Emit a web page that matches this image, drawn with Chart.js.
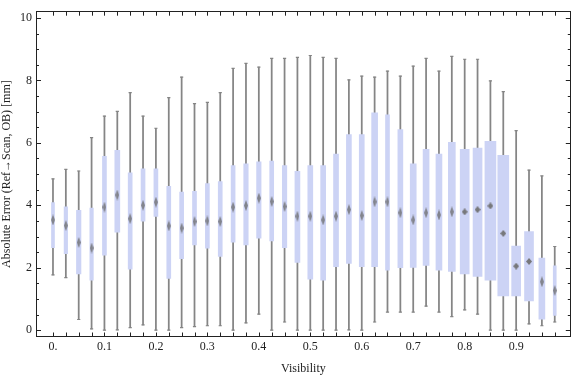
<!DOCTYPE html>
<html>
<head>
<meta charset="utf-8">
<script src="https://cdn.jsdelivr.net/npm/chart.js@4"></script>
<style>
  html, body { margin: 0; padding: 0; background: #fff; }
  #wrap { width: 576px; height: 377px; }
</style>
</head>
<body>
<div id="wrap"><canvas id="chartBox"></canvas></div>
<script>
// visibility bins
const visibility = [0, 0.025, 0.05, 0.075, 0.1, 0.125, 0.15, 0.175, 0.2, 0.225,
  0.25, 0.275, 0.3, 0.325, 0.35, 0.375, 0.4, 0.425, 0.45, 0.475,
  0.5, 0.525, 0.55, 0.575, 0.6, 0.625, 0.65, 0.675, 0.7, 0.725,
  0.75, 0.775, 0.8, 0.825, 0.85, 0.875, 0.9, 0.925, 0.95, 0.975];

// box-whisker stats (mm)
const whiskerMax = [4.85, 5.15, 5.10, 6.17, 6.86, 7.01, 7.61, 6.86, 6.47, 7.45,
  8.11, 7.26, 7.30, 7.61, 8.39, 8.55, 8.43, 8.71, 8.71, 8.74,
  8.80, 8.74, 8.71, 8.02, 8.14, 8.11, 8.30, 8.14, 8.46, 8.71,
  8.30, 8.77, 8.68, 8.68, 7.99, 7.64, 6.39, 5.13, 4.94, 2.68];
const boxUpper = [4.09, 3.95, 3.84, 3.91, 5.57, 5.76, 5.04, 5.17, 5.17, 4.61,
  4.42, 4.45, 4.70, 4.76, 5.27, 5.33, 5.39, 5.42, 5.27, 5.09,
  5.27, 5.27, 5.64, 6.27, 6.27, 6.96, 6.90, 6.43, 5.33, 5.79,
  5.64, 6.02, 5.79, 5.83, 6.05, 5.60, 2.69, 3.16, 2.31, 2.06];
const medians = [3.53, 3.35, 2.81, 2.63, 3.94, 4.33, 3.57, 4.00, 4.10, 3.34,
  3.27, 3.48, 3.50, 3.48, 3.94, 3.99, 4.23, 4.12, 3.96, 3.65,
  3.65, 3.53, 3.65, 3.86, 3.67, 4.11, 4.11, 3.76, 3.53, 3.76,
  3.69, 3.79, 3.79, 3.86, 3.98, 3.10, 2.05, 2.20, 1.55, 1.27];
const boxLower = [2.64, 2.45, 1.80, 1.60, 2.40, 3.14, 1.95, 3.49, 3.64, 1.66,
  2.29, 2.73, 2.63, 2.36, 2.82, 2.73, 2.95, 2.86, 2.64, 2.17,
  1.63, 1.60, 2.03, 2.14, 2.03, 2.03, 1.92, 2.00, 2.01, 2.07,
  1.92, 1.88, 1.80, 1.72, 1.60, 1.10, 1.10, 0.94, 0.35, 0.47];
const whiskerMin = [1.77, 1.68, 0.34, 0.04, 0, 0.01, 0.08, 0.17, 0, 0,
  0.08, 0.11, 0.14, 0.14, 0, 0.23, 0.51, 0, 0.26, 0,
  0, 0, 0, 0.01, 0, 0.26, 0.58, 0.58, 0.58, 0.77,
  0.58, 0.43, 0.65, 0.51, 0, 0, 0, 0.20, 0.14, 0.26];

// axis ticks
const xTicks = [0, 0.025, 0.05, 0.075, 0.1, 0.125, 0.15, 0.175, 0.2, 0.225,
  0.25, 0.275, 0.3, 0.325, 0.35, 0.375, 0.4, 0.425, 0.45, 0.475,
  0.5, 0.525, 0.55, 0.575, 0.6, 0.625, 0.65, 0.675, 0.7, 0.725,
  0.75, 0.775, 0.8, 0.825, 0.85, 0.875, 0.9, 0.925, 0.95, 0.975];
const xLabels = { 0: '0.', 0.1: '0.1', 0.2: '0.2', 0.3: '0.3', 0.4: '0.4', 0.5: '0.5', 0.6: '0.6', 0.7: '0.7', 0.8: '0.8', 0.9: '0.9' };
const yTicks = [0, 0.5, 1, 1.5, 2, 2.5, 3, 3.5, 4, 4.5, 5, 5.5, 6, 6.5, 7, 7.5, 8, 8.5, 9, 9.5, 10];
const yLabels = { 0: '0', 2: '2', 4: '4', 6: '6', 8: '8', 10: '10' };

// box widths in px (style only)
const boxWidths = [3, 3.5, 4.5, 3.5, 4, 5, 4, 4, 4, 4, 4, 4, 4, 4, 4, 4.5, 4.5, 4, 4.5, 5,
  5, 5, 5, 5, 5, 6, 4, 5, 6, 6, 6, 7, 9, 9, 11, 11, 9, 9, 6, 3];

const BOX = '#ccd3f5';
const WHISK = '#858585';

function diamond(w, h, color) {
  const c = document.createElement('canvas');
  c.width = w; c.height = h;
  const g = c.getContext('2d');
  g.fillStyle = color;
  g.beginPath();
  g.moveTo(w / 2, 0); g.lineTo(w, h / 2); g.lineTo(w / 2, h); g.lineTo(0, h / 2);
  g.closePath(); g.fill();
  return c;
}
const tallMark = diamond(4, 11, 'rgba(105,105,105,0.75)');
const flatMark = diamond(6, 7, 'rgba(110,110,110,0.9)');

// one box dataset per width (bar thickness is per dataset)
const boxSets = [...new Set(boxWidths)].map(w => ({
  type: 'bar',
  order: 1,
  grouped: false,
  barThickness: w,
  backgroundColor: BOX,
  borderWidth: 0,
  data: visibility.map((x, i) => boxWidths[i] === w ? { x, y: [boxLower[i], boxUpper[i]] } : null).filter(Boolean)
}));

const framePlugin = {
  id: 'frame',
  afterDraw(chart) {
    const { ctx, chartArea: a, scales: { x, y } } = chart;
    ctx.save();
    ctx.strokeStyle = '#222';
    ctx.lineWidth = 1;
    ctx.strokeRect(Math.round(a.left) + 0.5, Math.round(a.top) + 0.5,
      Math.round(a.right - a.left) - 1, Math.round(a.bottom - a.top) - 1);
    ctx.beginPath();
    xTicks.forEach(v => {
      const px = Math.round(x.getPixelForValue(v)) + 0.5;
      ctx.moveTo(px, a.bottom); ctx.lineTo(px, a.bottom - 4.5);
      ctx.moveTo(px, a.top); ctx.lineTo(px, a.top + 4.5);
    });
    yTicks.forEach(v => {
      const py = Math.round(y.getPixelForValue(v)) + 0.5;
      const len = (v % 2 === 0) ? 5 : 3;
      ctx.moveTo(a.left, py); ctx.lineTo(a.left + len, py);
      ctx.moveTo(a.right, py); ctx.lineTo(a.right - len, py);
    });
    ctx.stroke();
    ctx.restore();
  }
};

const font = { family: "'Liberation Serif', 'DejaVu Serif', serif", size: 12 };

new Chart(document.getElementById('chartBox'), {
  data: {
    datasets: [
      {
        type: 'scatter',
        order: 0,
        data: visibility.map((x, i) => ({ x, y: medians[i] })),
        pointStyle: ctx => boxWidths[ctx.dataIndex] >= 9 ? flatMark : tallMark,
        pointRadius: 4,
        showLine: false
      },
      ...boxSets,
      {
        type: 'bar',
        order: 2,
        grouped: false,
        barThickness: 1.1,
        backgroundColor: WHISK,
        borderWidth: 0,
        data: visibility.map((x, i) => ({ x, y: [whiskerMin[i], whiskerMax[i]] }))
      },
      {
        type: 'scatter',
        order: 3,
        data: visibility.map((x, i) => ({ x, y: whiskerMax[i] })).concat(visibility.map((x, i) => ({ x, y: whiskerMin[i] }))),
        pointStyle: 'line',
        pointRadius: 1.6,
        borderColor: WHISK,
        borderWidth: 1.2,
        showLine: false
      }
    ]
  },
  options: {
    responsive: true,
    maintainAspectRatio: false,
    animation: false,
    layout: { padding: { top: 4, right: 2, bottom: 0, left: 0 } },
    plugins: { legend: { display: false }, tooltip: { enabled: false } },
    scales: {
      x: {
        type: 'linear',
        offset: false,
        min: -0.033,
        max: 1.0062,
        grid: { display: false, drawTicks: false },
        border: { display: false },
        afterBuildTicks: s => { s.ticks = xTicks.map(v => ({ value: v })); },
        afterFit: s => { s.height = 40; },
        ticks: {
          autoSkip: false, maxRotation: 0, padding: 3, color: '#222', font,
          callback: v => xLabels[Math.round(v * 1000) / 1000] || ''
        },
        title: { display: true, text: 'Visibility', color: '#222', font, padding: { top: 0, bottom: 1 } }
      },
      y: {
        type: 'linear',
        min: -0.22,
        max: 10.22,
        grid: { display: false, drawTicks: false },
        border: { display: false },
        afterBuildTicks: s => { s.ticks = yTicks.map(v => ({ value: v })); },
        afterFit: s => { s.width = 36; },
        ticks: {
          autoSkip: false, padding: 4, color: '#222', font,
          callback: v => yLabels[v] || ''
        },
        title: { display: true, text: 'Absolute Error (Ref\u2192Scan, OB) [mm]', color: '#222', font, padding: { top: 0, bottom: 0 } }
      }
    }
  },
  plugins: [framePlugin]
});
</script>
</body>
</html>
